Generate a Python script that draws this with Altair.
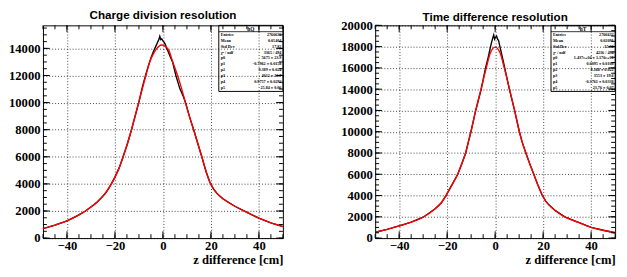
import altair as alt
import pandas as pd

# ---------------- data ----------------
# Left panel: charge division
q_fit_x = [-50, -45, -40, -35, -32.3, -30, -27.5, -25, -23.6, -21.5, -20, -18.2, -16.6, -15, -13.1, -12.5,
           -10.1, -7.1, -5.4, -4, -2.5, -0.7, 1, 2.5, 4, 6.1, 7.5, 9.4, 11, 12.8, 14.5, 16.2, 18, 19.6,
           21, 22.5, 25, 30, 35, 40, 45, 50]
q_fit_y = [700, 960, 1270, 1720, 2000, 2300, 2650, 3100, 3400, 4000, 4500, 5200, 6000, 6850, 8000, 8400,
           10000, 12000, 13050, 13600, 14000, 14250, 14150, 13850, 13050, 12000, 11200, 10000, 9000, 8000,
           7000, 6000, 4900, 4100, 3650, 3300, 2900, 2350, 1900, 1470, 1120, 850]
q_hist_x = [-50, -45, -40, -35, -32.3, -30, -27.5, -25, -23.6, -21.5, -20, -18.2, -16.6, -15, -13.1, -12.5,
            -10.1, -8.5, -7.1, -6, -5, -4, -3, -2.5, -2, -1.6, -1.3, -0.9, -0.5, 0, 0.5, 1, 1.5, 2, 3, 4,
            5.4, 7, 8.5, 9.5, 11, 12.8, 14.5, 16.2, 18, 19.6, 21, 22.5, 25, 30, 35, 40, 45, 50]
q_hist_y = [700, 960, 1270, 1720, 2000, 2300, 2650, 3100, 3400, 4000, 4500, 5200, 6000, 6850, 8000, 8400,
            10000, 11200, 12100, 12750, 13300, 13750, 14150, 14350, 14550, 14700, 14900, 14650, 14700, 14550,
            14450, 14300, 14000, 13850, 13400, 13000, 12000, 11050, 10450, 9950, 9000, 8000, 7000, 6000,
            4900, 4100, 3650, 3300, 2900, 2350, 1900, 1470, 1120, 850]

# Right panel: time difference
t_fit_x = [-50, -45, -40, -35, -30, -25, -22.5, -20.5, -18, -15.6, -13.9, -12.3, -11.2, -10.1, -8.1, -5.9,
           -3.7, -2, 0, 2, 3.8, 6, 8.1, 10.1, 11.3, 12.8, 14.4, 16.1, 17.8, 19.6, 21, 22.5, 25, 29, 35, 40,
           45, 50]
t_fit_y = [550, 820, 1140, 1500, 1960, 2750, 3300, 4000, 5000, 6000, 7000, 8000, 9000, 10000, 12000, 14000,
           16000, 17400, 17950, 17450, 16000, 14000, 12000, 10000, 9000, 8000, 7000, 6000, 5000, 4050,
           3500, 3100, 2600, 2000, 1450, 1010, 740, 500]
t_hist_x = [-50, -45, -40, -35, -30, -25, -22.5, -20.5, -18, -15.6, -13.9, -12.3, -11.2, -10.1, -8.1, -5.8,
            -4, -3, -2, -1.5, -1, -0.6, -0.2, 0.2, 0.6, 1, 1.4, 2, 3, 4, 5.9, 8.1, 10.1, 11.3, 12.8, 14.4,
            16.1, 17.8, 19.6, 21, 22.5, 25, 29, 35, 40, 45, 50]
t_hist_y = [550, 820, 1140, 1500, 1960, 2750, 3300, 4000, 5000, 6000, 7000, 8000, 9000, 10000, 12000, 14000,
            16000, 16900, 17900, 18400, 18800, 19100, 18700, 18900, 19000, 18700, 18600, 18000, 17000, 16000,
            14000, 12000, 10000, 9000, 8000, 7000, 6000, 5000, 4050, 3500, 3100, 2600, 2000, 1450, 1010, 740,
            500]

stat_labels = ["Entries", "Mean", "Std Dev", "χ² / ndf", "p0", "p1", "p2", "p3", "p4", "p5"]
q_stat_values = ["2766632", "0.05404", "17.82", "3365 / 494", "5675 ± 23.9", "-0.7962 ± 0.0158",
                 "9.389 ± 0.024", "4012 ± 13.7", "0.9757 ± 0.0292", "25.84 ± 0.06"]
t_stat_values = ["2766632", "0.02091", "15.06", "4216 / 494", "1.437e+04 ± 1.176e+01", "0.0095 ± 0.0108",
                 "8.168 ± 0.022", "3553 ± 19.6", "-0.3761 ± 0.0338", "23.76 ± 0.07"]

x_major = [-40, -20, 0, 20, 40]
x_minor = [v for v in range(-50, 51, 5)]

W, H = 247, 219
SERIF = "Liberation Serif"
SANS = "Liberation Sans"


def panel(fx, fy, hx, hy, title, ymax, hname, values, title_offset):
    xs = alt.Scale(domain=[-50, 50], nice=False, zero=False)
    ys = alt.Scale(domain=[0, ymax], nice=False, zero=False)
    y_major = list(range(0, ymax + 1, 2000))
    y_minor = list(range(0, ymax + 1, 500))
    common = dict(labelFont=SERIF, labelFontSize=13, labelFontWeight="bold", labelColor="black",
                  grid=True, ticks=False, domain=False, format="d")
    xax = alt.Axis(values=x_major, title="z difference [cm]", titleAnchor="end", titlePadding=1,
                   titleFont=SERIF, titleFontSize=13, titleFontWeight="bold", titleColor="black",
                   labelPadding=2, **common)
    yax = alt.Axis(values=y_major, title=None, labelPadding=3, **common)

    def X(f):
        return alt.X(f, scale=xs, axis=xax, title="z difference [cm]")

    def Y(f):
        return alt.Y(f, scale=ys, axis=yax, title=None)

    hist = alt.Chart(pd.DataFrame({"x": hx, "y": hy})).mark_line(
        color="black", strokeWidth=1.4, interpolate="linear"
    ).encode(x=X("x:Q"), y=Y("y:Q"), order="x:Q")
    fit = alt.Chart(pd.DataFrame({"x": fx, "y": fy})).mark_line(
        color="#ff0000", strokeWidth=1.4, interpolate="monotone"
    ).encode(x=X("x:Q"), y=Y("y:Q"), order="x:Q")

    def xt(vals, length):
        d = alt.Chart(pd.DataFrame({"v": vals}))
        bot = d.mark_rule(color="black", strokeWidth=1).encode(
            x=X("v:Q"), y=alt.value(H), y2=alt.value(H - length))
        top = d.mark_rule(color="black", strokeWidth=1).encode(
            x=X("v:Q"), y=alt.value(0), y2=alt.value(length))
        return [bot, top]

    def yt(vals, length):
        d = alt.Chart(pd.DataFrame({"v": vals}))
        lft = d.mark_rule(color="black", strokeWidth=1).encode(
            y=Y("v:Q"), x=alt.value(0), x2=alt.value(length))
        rgt = d.mark_rule(color="black", strokeWidth=1).encode(
            y=Y("v:Q"), x=alt.value(W), x2=alt.value(W - length))
        return [lft, rgt]

    ticks = xt(x_major, 7) + xt(x_minor, 4) + yt(y_major, 7) + yt(y_minor, 4)

    one = alt.Chart(pd.DataFrame({"a": [0]}))
    bx0, bx1, by0, by1 = W - 66, W, 0, 68
    box = one.mark_rect(filled=False, stroke="black", strokeWidth=1).encode(
        x=alt.value(bx0), x2=alt.value(bx1), y=alt.value(by0), y2=alt.value(by1))
    hline = one.mark_rule(color="black", strokeWidth=0.8).encode(
        x=alt.value(bx0), x2=alt.value(bx1), y=alt.value(6.5), y2=alt.value(6.5))
    head = one.mark_text(font=SERIF, fontSize=5.5, fontWeight="bold", baseline="middle").encode(
        x=alt.value((bx0 + bx1) / 2), y=alt.value(3.5), text=alt.value(hname))
    lab = one.mark_text(font=SERIF, fontSize=4.3, fontWeight="bold", align="left", baseline="top",
                        lineHeight=6.03).encode(
        x=alt.value(bx0 + 2), y=alt.value(8), text=alt.value(stat_labels))
    val = one.mark_text(font=SERIF, fontSize=4.3, fontWeight="bold", align="right", baseline="top",
                        lineHeight=6.03).encode(
        x=alt.value(bx1 - 1.5), y=alt.value(8), text=alt.value(values))

    return alt.layer(hist, fit, *ticks, box, hline, head, lab, val).properties(
        width=W, height=H,
        title=alt.TitleParams(title, font=SANS, fontSize=12, fontWeight="bold", anchor="middle",
                              frame="group", offset=title_offset, dy=-3, color="black"),
    )


left = panel(q_fit_x, q_fit_y, q_hist_x, q_hist_y, "Charge division resolution", 15700, "hQ",
             q_stat_values, 0)
right = panel(t_fit_x, t_fit_y, t_hist_x, t_hist_y, "Time difference resolution", 20000, "hT",
              t_stat_values, -7)

chart = alt.hconcat(left, right, spacing=55).properties(
    padding={"top": -3, "left": 0, "right": 0, "bottom": 0}
).configure_view(
    stroke="black", strokeWidth=1
).configure_axis(
    gridColor="black", gridDash=[1, 2], gridOpacity=0.75, gridWidth=1,
)

chart.save("out.html", embed_options={"renderer": "svg", "actions": False})
